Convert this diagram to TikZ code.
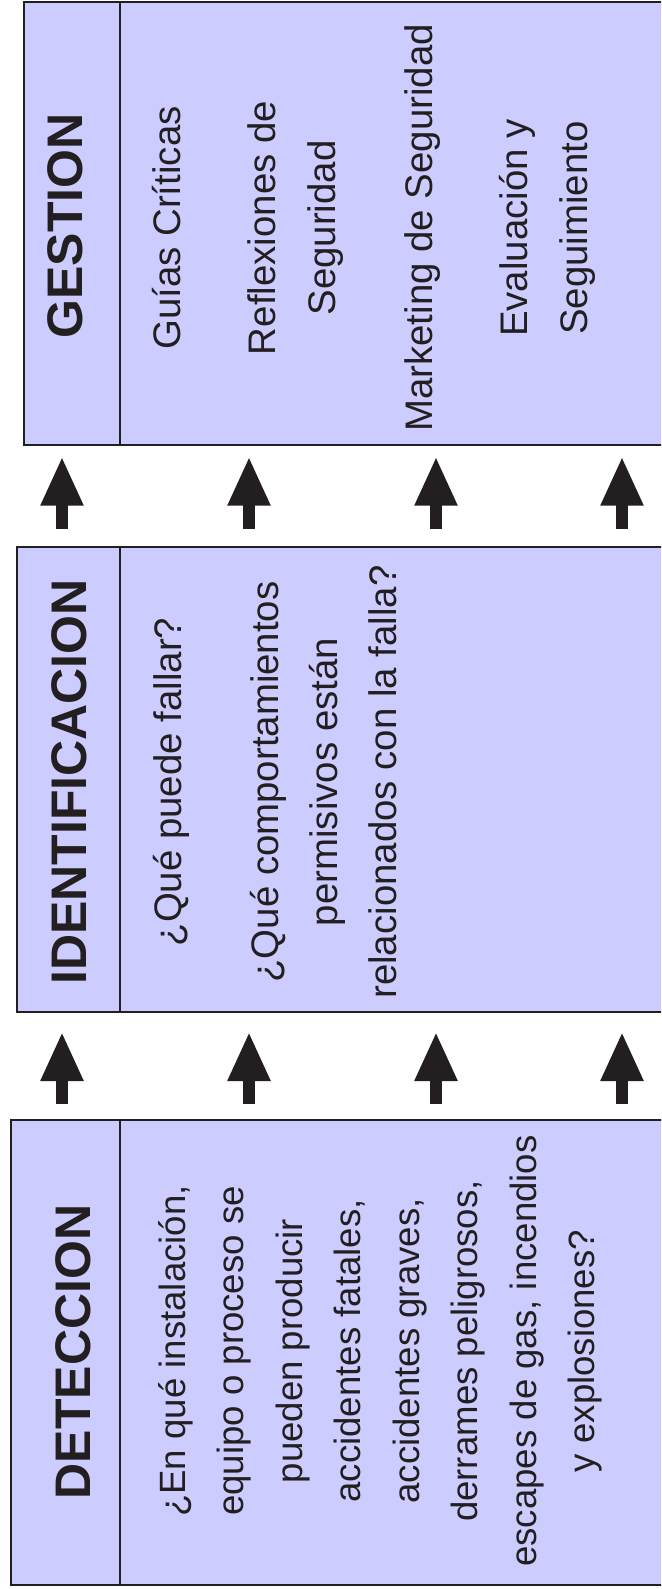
\documentclass[tikz,border=0pt]{standalone}
\usepackage{fontspec}
\setmainfont{Liberation Sans}
\usetikzlibrary{arrows.meta}

\definecolor{lavender}{RGB}{204,204,255}
\definecolor{ink}{RGB}{35,31,32}

\tikzset{
  panel/.style={line width=1pt,draw=ink,fill=lavender},
  divider/.style={line width=1pt,draw=ink},
  title/.style={rotate=90,anchor=base,inner sep=0pt,text=ink,font=\fontsize{25}{30}\selectfont\bfseries},
  entry/.style={rotate=90,anchor=base,inner sep=0pt,text=ink,font=\fontsize{19.2}{30}\selectfont},
  smallentry/.style={entry,font=\fontsize{18.3}{30}\selectfont},
  bigarrow/.style={draw=ink,line width=5.7pt,-{Triangle[length=24.5pt,width=20pt]}}
}

\begin{document}
\begin{tikzpicture}[x=0.5pt,y=-0.5pt]
  \useasboundingbox (0,0) rectangle (661,1589);
  \clip (0,0) rectangle (661,1589);

  % panels, cut off on the right
  \draw [panel] (24,2) coordinate (ges nw) rectangle (720,445) coordinate (ges se);
  \draw [panel] (17,547) coordinate (ide nw) rectangle (720,1012) coordinate (ide se);
  \draw [panel] (11,1120) coordinate (det nw) rectangle (720,1585) coordinate (det se);
  \draw [divider] (120,0 |- ges nw) -- (120,0 |- ges se);
  \draw [divider] (120,0 |- ide nw) -- (120,0 |- ide se);
  \draw [divider] (120,0 |- det nw) -- (120,0 |- det se);

  % GESTION
  \node [title] (ges title) at (82.7,226) {GESTION};
  \node [entry] (ges a) at (180,228) {Guías Críticas};
  \node [entry] (ges b1) at (275,228) {Reflexiones de};
  \node [entry] (ges b2) at (335,228) {Seguridad};
  \node [entry] (ges c) at (432,228) {Marketing de Seguridad};
  \node [entry] (ges d1) at (527,228) {Evaluación y};
  \node [entry] (ges d2) at (587,228) {Seguimiento};

  % IDENTIFICACION
  \node [title] (ide title) at (86.4,782) {IDENTIFICACION};
  \node [entry] (ide a) at (181,782) {¿Qué puede fallar?};
  \node [entry] (ide b1) at (278,782) {¿Qué comportamientos};
  \node [entry] (ide b2) at (337,782) {permisivos están};
  \node [entry] (ide b3) at (396,782) {relacionados con la falla?};

  % DETECCION
  \node [title] (det title) at (90.7,1352) {DETECCION};
  \node [smallentry] (det a) at (185,1351) {¿En qué instalación,};
  \node [smallentry] (det b) at (243.5,1351) {equipo o proceso se};
  \node [smallentry] (det c) at (302,1351) {pueden producir};
  \node [smallentry] (det d) at (360.5,1351) {accidentes fatales,};
  \node [smallentry] (det e) at (419,1351) {accidentes graves,};
  \node [smallentry] (det f) at (477.5,1351) {derrames peligrosos,};
  \node [smallentry] (det g) at (536,1351) {escapes de gas, incendios};
  \node [smallentry] (det h) at (594.5,1351) {y explosiones?};

  % arrows between panels
  \draw [bigarrow,shorten <=9pt,shorten >=5.85pt] (62,0 |- ide nw) -- (62,0 |- ges se);
  \draw [bigarrow,shorten <=9pt,shorten >=5.85pt] (249,0 |- ide nw) -- (249,0 |- ges se);
  \draw [bigarrow,shorten <=9pt,shorten >=5.85pt] (436,0 |- ide nw) -- (436,0 |- ges se);
  \draw [bigarrow,shorten <=9pt,shorten >=5.85pt] (622,0 |- ide nw) -- (622,0 |- ges se);
  \draw [bigarrow,shorten <=8pt,shorten >=10pt] (62,0 |- det nw) -- (62,0 |- ide se);
  \draw [bigarrow,shorten <=8pt,shorten >=10pt] (249,0 |- det nw) -- (249,0 |- ide se);
  \draw [bigarrow,shorten <=8pt,shorten >=10pt] (436,0 |- det nw) -- (436,0 |- ide se);
  \draw [bigarrow,shorten <=8pt,shorten >=10pt] (622,0 |- det nw) -- (622,0 |- ide se);
\end{tikzpicture}
\end{document}
